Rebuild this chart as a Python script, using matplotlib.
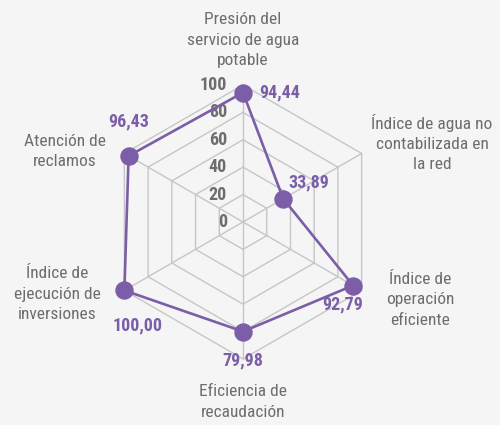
import numpy as np
import matplotlib
matplotlib.use("Agg")
import matplotlib.pyplot as plt

categories = [
    "Presión del\nservicio de agua\npotable",
    "Índice de agua no\ncontabilizada en\nla red",
    "Índice de\noperación\neficiente",
    "Eficiencia de\nrecaudación",
    "Índice de\nejecución de\ninversiones",
    "Atención de\nreclamos",
]
values = [94.44, 33.89, 92.79, 79.98, 100.00, 96.43]
value_labels = ["94,44", "33,89", "92,79", "79,98", "100,00", "96,43"]
ticks = [0, 20, 40, 60, 80, 100]

plt.rcParams["font.family"] = ["Roboto Condensed", "DejaVu Sans"]

purple = "#7b5ea7"
grey_txt = "#6d6d6d"
grid_c = "#c6c6c6"
bg = "#f5f5f5"

n = len(categories)
ang = np.arange(n) * 2 * np.pi / n

fig = plt.figure(figsize=(5, 4.25), dpi=100, facecolor=bg)
ax = fig.add_axes([0, 0, 1, 1])
ax.set_facecolor(bg)
ax.set_xlim(-177.4, 187.6)
ax.set_ylim(-148.2, 162.0)
ax.set_aspect("equal")
ax.axis("off")

# hexagon grid
for t in ticks[1:]:
    xs = t * np.sin(np.append(ang, ang[0]))
    ys = t * np.cos(np.append(ang, ang[0]))
    ax.plot(xs, ys, color=grid_c, lw=1, zorder=1)
for a in ang:
    ax.plot([0, 100 * np.sin(a)], [0, 100 * np.cos(a)], color=grid_c, lw=1, zorder=1)

# scale labels
for t in ticks:
    ax.text(-11.7, t, str(t), ha="right", va="center", fontsize=13,
            fontweight="bold", color=grey_txt, zorder=2)

# series
vx = np.array(values) * np.sin(ang)
vy = np.array(values) * np.cos(ang)
ax.plot(np.append(vx, vx[0]), np.append(vy, vy[0]), color=purple, lw=1.9, zorder=3)
ax.scatter(vx, vy, s=150, color=purple, zorder=4)

offsets = [(16, 0, "left"), (5, 16, "left"), (-10, -19, "center"),
           (0, -29, "center"), (13, -35, "center"), (0, 34, "center")]
for x, y, lab, (dx, dy, ha) in zip(vx, vy, value_labels, offsets):
    ax.annotate(lab, (x, y), xytext=(dx, dy), textcoords="offset pixels",
                ha=ha, va="center", fontsize=13, fontweight="bold",
                color=purple, zorder=5)

# axis names
label_pos = [(0, 132.8), (138, 57.7), (129.2, -56.9), (0, -131.4),
             (-135.8, -52.6), (-130, 51.5)]
for (x, y), lab in zip(label_pos, categories):
    ax.text(x, y, lab, ha="center", va="center", fontsize=12.5,
            color=grey_txt, linespacing=1.45)

fig.savefig("out.png", dpi=100, facecolor=bg)
